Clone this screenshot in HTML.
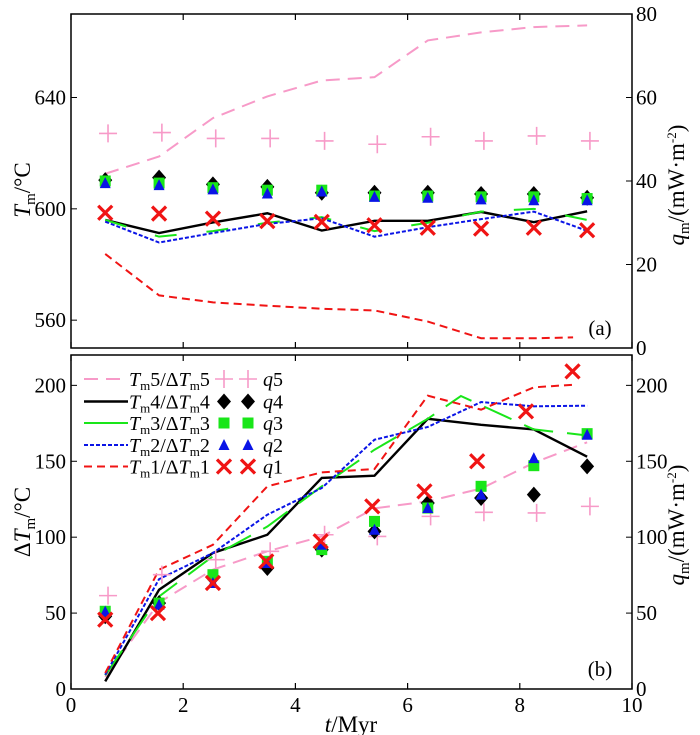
<!DOCTYPE html>
<html><head><meta charset="utf-8"><style>
body{margin:0;background:#fff}
svg{display:block}
svg text, svg tspan{font-family:"Liberation Serif","DejaVu Serif","Times New Roman",serif}
</style></head><body>
<svg id="c" width="700" height="735" viewBox="0 0 700 735"></svg>
<script>
// ---- data ----
const tLine=[0.61,1.57,2.53,3.5,4.47,5.41,6.36,7.31,8.25,9.2];
const tm5=[612.6,618.8,632.6,640.4,646.1,647.3,660.5,663.4,665.3,665.9];
const tm4=[596.0,591.3,595.1,598.4,592.2,595.7,595.7,598.9,595.2,599.1];
const tm3=[596.0,590.0,592.0,595.0,597.0,592.0,595.0,599.0,600.0,596.0];
const tm2=[595.4,587.9,591.3,594.6,596.6,590.0,593.4,596.3,599.0,592.1];
const tm1=[583.8,568.9,566.4,565.2,564.1,563.5,559.5,553.5,553.5,553.8];
const tq=[0.61,1.57,2.53,3.5,4.47,5.41,6.36,7.31,8.25,9.2];
const qa5=[51.4,51.6,50.2,50.2,49.6,48.8,50.6,49.6,50.8,49.6];
const qa4=[40.2,40.8,39.2,38.6,37.2,37.2,37.2,36.9,36.9,36.0];
const qa3=[40.0,39.5,38.4,37.8,37.8,36.4,36.4,36.2,36.2,35.8];
const qa2=[39.5,39.0,38.0,37.0,37.5,36.2,36.0,35.6,35.4,35.4];
const qa1=[32.4,32.2,31.0,30.4,30.2,29.4,28.8,28.6,28.8,28.2];
const dT5=[8,57,78.6,90.7,100.5,119,123.6,132,149,162.5];
const dT4=[5,65.4,89.6,101.6,139,140.5,178,174,171,153];
const dT3=[9,61,87.4,107,133.5,157.6,178,193,171,167];
const dT2=[9.4,72.4,89.6,114.8,132.4,164.2,172.6,189,186.2,186.6];
const dT1=[10.5,78.6,95,133.5,142.7,144.9,193.2,184,198.7,200.4];
const tLineB=[0.61,1.57,2.53,3.5,4.47,5.41,6.36,7.31,8.25,9.2];
const tLineB1=[0.61,1.57,2.53,3.5,4.47,5.41,6.36,7.31,8.25,8.95];
const tLineB3=[0.61,1.57,2.53,3.5,4.47,5.41,6.36,6.95,8.25,9.2];
const qb5=[61.5,75.3,85.2,90.7,101.6,100.5,113.7,116.4,116,120.3];
const qb4=[47.9,56.6,73.1,79.7,91.8,103.8,122.5,125.8,128,146.6];
const qb3=[51.2,56.6,75.3,84.1,91.8,110.4,119.2,133.5,147.1,168.2];
const qb2=[51,55.5,69.8,83,95,104.9,119.2,128,152.1,167.5];
const qb1=[45.7,50,69.8,84.1,97.3,120.3,130.2,150,182.9,209.2];
const tq1b=[0.61,1.55,2.53,3.48,4.45,5.37,6.3,7.24,8.11,8.94];
const xTicks=[0,2,4,6,8,10];
const yTicksA=[560,600,640];
const yTicksAR=[0,20,40,60,80];
const yTicksB=[0,50,100,150,200];

const NS="http://www.w3.org/2000/svg";
const FF='"Liberation Serif","DejaVu Serif",serif';
const svg=document.getElementById('c');
function mk(tag,attrs,parent){const e=document.createElementNS(NS,tag);for(const k in attrs)e.setAttribute(k,attrs[k]);if(tag==='text')e.style.fontFamily=FF;(parent||svg).appendChild(e);return e;}
const X0=71,X1=632;
const x=t=>X0+(X1-X0)*t/10;
const A={top:14,bot:348};
const yA=v=>A.bot-(A.bot-A.top)*(v-550)/120;
const yAR=v=>A.bot-(A.bot-A.top)*v/80;
const B={top:355,bot:689};
const yB=v=>B.bot-(B.bot-B.top)*v/220;

function line(ts,vs,fy,col,dash,w,name){
  const p=mk('polyline',{points:ts.map((t,i)=>x(t)+','+fy(vs[i])).join(' '),fill:'none',stroke:col,'stroke-width':w,'stroke-dasharray':dash});
  
  
}
function marker(type,cx,cy,name){
  let e;
  if(type==='plus'){e=mk('path',{d:`M${cx-9},${cy}H${cx+9}M${cx},${cy-9}V${cy+9}`,stroke:'#f79ac8','stroke-width':1.6,fill:'none'});}
  else if(type==='dia'){e=mk('path',{d:`M${cx},${cy-8}L${cx+7},${cy}L${cx},${cy+8}L${cx-7},${cy}Z`,fill:'#000'});}
  else if(type==='sq'){e=mk('rect',{x:cx-5.5,y:cy-5.5,width:11,height:11,fill:'#19e619'});}
  else if(type==='tri'){e=mk('path',{d:`M${cx},${cy-6}L${cx+5.5},${cy+5}L${cx-5.5},${cy+5}Z`,fill:'#0a14e6'});}
  else {e=mk('path',{d:`M${cx-7},${cy-7}L${cx+7},${cy+7}M${cx+7},${cy-7}L${cx-7},${cy+7}`,stroke:'#f01414','stroke-width':3.2,fill:'none'});}
  
  
}
function txt(s,xx,yy,anchor,size,name){const e=mk('text',{x:xx,y:yy,'text-anchor':anchor,'font-size':size});e.textContent=s;return e;}

// frames & ticks
[A,B].forEach((P,pi)=>{
  const r=mk('rect',{x:X0,y:P.top,width:X1-X0,height:P.bot-P.top,fill:'none',stroke:'#000','stroke-width':1.5});
  
  
  xTicks.forEach(t=>{mk('line',{x1:x(t),x2:x(t),y1:P.bot,y2:P.bot-6,stroke:'#000','stroke-width':1.2});mk('line',{x1:x(t),x2:x(t),y1:P.top,y2:P.top+6,stroke:'#000','stroke-width':1.2});});
});
yTicksA.forEach(v=>{mk('line',{x1:X0,x2:X0+6,y1:yA(v),y2:yA(v),stroke:'#000'});txt(v,X0-5,yA(v)+7,'end',21,'y-tick-a');});
yTicksAR.forEach(v=>{mk('line',{x1:X1,x2:X1-6,y1:yAR(v),y2:yAR(v),stroke:'#000'});txt(v,X1+4,yAR(v)+7,'start',21,'y2-tick-a');});
yTicksB.forEach(v=>{mk('line',{x1:X0,x2:X0+6,y1:yB(v),y2:yB(v),stroke:'#000'});mk('line',{x1:X1,x2:X1-6,y1:yB(v),y2:yB(v),stroke:'#000'});
  txt(v,X0-5,yB(v)+7,'end',21,'y-tick-b');txt(v,X1+4,yB(v)+7,'start',21,'y2-tick-b');});
xTicks.forEach(t=>txt(t,x(t),712,'middle',21,'x-tick'));

// panel a lines
line(tLine,tm5,yA,'#f79ac8','14 8',2,'tm5-line-a');
line(tLine,tm4,yA,'#000','',2.4,'tm4-line-a');
line(tLine,tm3,yA,'#19e619','22 30',2,'tm3-line-a');
line(tLine,tm2,yA,'#0a14e6','4 2',2,'tm2-line-a');
line(tLine.slice(0,9).concat([8.95]),tm1,yA,'#f01414','8 5',2,'tm1-line-a');
tq.forEach((t,i)=>marker('plus',x(t+0.05),yAR(qa5[i]),'q5-point-a'));
tq.forEach((t,i)=>marker('dia',x(t),yAR(qa4[i]),'q4-point-a'));
tq.forEach((t,i)=>marker('sq',x(t),yAR(qa3[i]),'q3-point-a'));
tq.forEach((t,i)=>marker('tri',x(t),yAR(qa2[i]),'q2-point-a'));
tq.forEach((t,i)=>marker('x',x(t),yAR(qa1[i]),'q1-point-a'));

// panel b lines
line(tLineB,dT5,yB,'#f79ac8','14 8',2,'tm5-line-b');
line(tLineB,dT4,yB,'#000','',2.4,'tm4-line-b');
line(tLineB3,dT3,yB,'#19e619','30 14',2,'tm3-line-b');
line(tLineB,dT2,yB,'#0a14e6','4 2',2,'tm2-line-b');
line(tLineB1,dT1,yB,'#f01414','8 5',2,'tm1-line-b');
tq.forEach((t,i)=>marker('plus',x(t+0.05),yB(qb5[i]),'q5-point-b'));
tq.forEach((t,i)=>marker('dia',x(t),yB(qb4[i]),'q4-point-b'));
tq.forEach((t,i)=>marker('sq',x(t),yB(qb3[i]),'q3-point-b'));
tq.forEach((t,i)=>marker('tri',x(t),yB(qb2[i]),'q2-point-b'));
tq1b.forEach((t,i)=>marker('x',x(t),yB(qb1[i]),'q1-point-b'));

// legend
const legCols=['#f79ac8','#000','#19e619','#0a14e6','#f01414'];
const legDash=['14 8','','','4 2','8 5'];
const legN=['5','4','3','2','1'];
const legM=['plus','dia','sq','tri','x'];
const legY=[379,401.5,423,445,466.5];
legN.forEach((n,i)=>{
  const w=i===1?2.4:2;
  const l=mk('line',{x1:84,x2:128,y1:legY[i],y2:legY[i],stroke:legCols[i],'stroke-width':w,'stroke-dasharray':legDash[i]});
  
  
  const t=mk('text',{x:129,y:legY[i]+7,'font-size':20});
  t.innerHTML=`<tspan font-style="italic">T</tspan><tspan font-size="13" dy="4">m</tspan><tspan dy="-4">${n}/Δ</tspan><tspan font-style="italic">T</tspan><tspan font-size="13" dy="4">m</tspan><tspan dy="-4">${n}</tspan>`;
  
  
  marker(legM[i],224,legY[i],'legend-marker-q'+n);
  marker(legM[i],248,legY[i],'legend-marker-q'+n);
  const q=mk('text',{x:263,y:legY[i]+7,'font-size':20});
  q.innerHTML=`<tspan font-style="italic">q</tspan>${n}`;
  
  
});

// panel labels
txt('(a)',600,335,'middle',21,'panel-a-label');
txt('(b)',600,676,'middle',21,'panel-b-label');

// axis titles
let e=mk('text',{x:0,y:0,'font-size':23,transform:'translate(30,190) rotate(-90)','text-anchor':'middle'});
e.innerHTML='<tspan font-style="italic">T</tspan><tspan font-size="15" dy="5">m</tspan><tspan dy="-5">/°C</tspan>';

e=mk('text',{x:0,y:0,'font-size':23,transform:'translate(30,522) rotate(-90)','text-anchor':'middle'});
e.innerHTML='Δ<tspan font-style="italic">T</tspan><tspan font-size="15" dy="5">m</tspan><tspan dy="-5">/°C</tspan>';

[185,525].forEach((cy,i)=>{
  const r=mk('text',{x:0,y:0,'font-size':23,transform:`translate(684,${cy}) rotate(-90)`,'text-anchor':'middle'});
  r.innerHTML='<tspan font-style="italic">q</tspan><tspan font-size="15" dy="5">m</tspan><tspan dy="-5">/(mW·m</tspan><tspan font-size="13" dy="-8">-2</tspan><tspan dy="8">)</tspan>';
  
  
});
e=mk('text',{x:351,y:732,'font-size':23,'text-anchor':'middle'});
e.innerHTML='<tspan font-style="italic">t</tspan>/Myr';

</script>
</body></html>
